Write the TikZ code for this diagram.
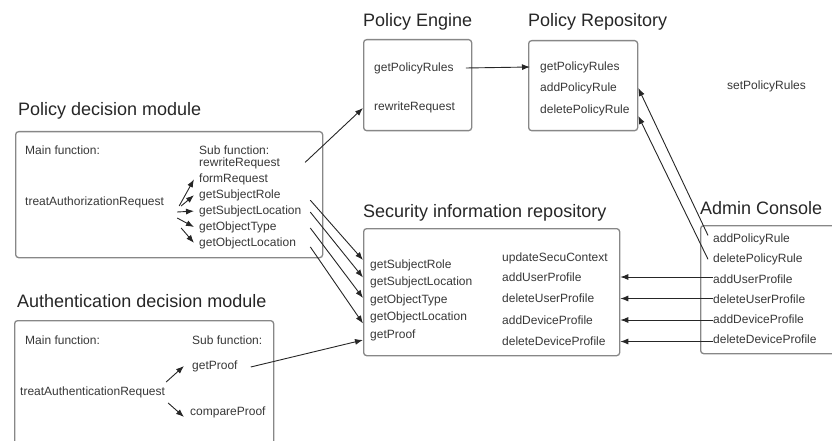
\documentclass[tikz,border=0pt]{standalone}
\usepackage{fontspec}
\setmainfont{Liberation Sans}
\usepackage{xcolor}
\usetikzlibrary{arrows.meta}

\definecolor{boxgray}{RGB}{135,135,135}
\definecolor{txtgray}{RGB}{55,55,55}

\tikzset{
  lbl/.style={anchor=west, inner sep=0pt, text=txtgray, font=\fontsize{12}{14}\selectfont},
  ttl/.style={anchor=west, inner sep=0pt, text=black!85, font=\fontsize{18}{21}\selectfont},
  modbox/.style={draw=boxgray, line width=1.3pt, rounded corners=3pt, anchor=north west, inner sep=0pt},
  conn/.style={draw=black!85, line width=0.9pt, -{Latex[length=8pt,width=6pt]}}
}

\begin{document}
\begin{tikzpicture}[x=1pt,y=-1pt]

\useasboundingbox (0,0) rectangle (832,441);

% Policy decision module
\node[ttl] (pdTitle) at (18,111) {Policy decision module};
\node[modbox, minimum width=307pt, minimum height=126pt] (pd) at (15,131) {};
\node[lbl] (pdMain) at (25,150) {Main function:};
\node[lbl] (pdSub) at (199,150) {Sub function:};
\node[lbl] (pdTreat) at (25,202) {treatAuthorizationRequest};
\foreach \nm/\txt [count=\i] in {Rewrite/rewriteRequest, Form/formRequest, Role/getSubjectRole, SLoc/getSubjectLocation, OType/getObjectType, OLoc/getObjectLocation}
  \node[lbl] (pd\nm) at (199,147.5+15.9*\i) {\txt};

% Policy Engine
\node[ttl] (peTitle) at (363,22) {Policy Engine};
\node[modbox, minimum width=108pt, minimum height=91pt] (pe) at (363,39) {};
\node[lbl] (peGet) at (374,68) {getPolicyRules};
\node[lbl] (peRewrite) at (374,107) {rewriteRequest};

% Policy Repository
\node[ttl] (prTitle) at (528,22) {Policy Repository};
\node[modbox, minimum width=109pt, minimum height=90pt] (pr) at (528,40) {};
\node[lbl] (prGet) at (540,67) {getPolicyRules};
\node[lbl] (prAdd) at (540,88) {addPolicyRule};
\node[lbl] (prDel) at (540,110) {deletePolicyRule};
\node[lbl] (prSet) at (727,86) {setPolicyRules};

% Security information repository
\node[ttl] (sirTitle) at (363,213) {Security information repository};
\node[modbox, minimum width=256pt, minimum height=127pt] (sir) at (363,228) {};
\foreach \nm/\txt [count=\i] in {Role/getSubjectRole, SLoc/getSubjectLocation, OType/getObjectType, OLoc/getObjectLocation, Proof/getProof}
  \node[lbl] (sir\nm) at (370,247.5+17.5*\i) {\txt};
\node[lbl] (sirCtx) at (502,258) {updateSecuContext};
\foreach \nm/\txt [count=\i] in {AddUser/addUserProfile, DelUser/deleteUserProfile, AddDev/addDeviceProfile, DelDev/deleteDeviceProfile}
  \node[lbl] (sir\nm) at (502,255.5+21.5*\i) {\txt};

% Admin Console
\node[ttl] (acTitle) at (700,208) {Admin Console};
\node[modbox, minimum width=150pt, minimum height=128pt] (ac) at (700,225) {};
\foreach \nm/\txt [count=\i] in {AddRule/addPolicyRule, DelRule/deletePolicyRule, AddUser/addUserProfile, DelUser/deleteUserProfile, AddDev/addDeviceProfile, DelDev/deleteDeviceProfile}
  \node[lbl] (ac\nm) at (713,219.5+19.9*\i) {\txt};

% Authentication decision module
\node[ttl] (adTitle) at (17,301) {Authentication decision module};
\node[modbox, minimum width=259pt, minimum height=140pt] (ad) at (14,320) {};
\node[lbl] (adMain) at (25,340) {Main function:};
\node[lbl] (adSub) at (192,340) {Sub function:};
\node[lbl] (adProof) at (192,366) {getProof};
\node[lbl] (adTreat) at (20,392) {treatAuthenticationRequest};
\node[lbl] (adCompare) at (190,412) {compareProof};

% Main function to sub functions
\foreach \tgt/\dx/\dy in {Form/15/4, Role/17/4, SLoc/13/10, OType/13/16, OLoc/17/26}
  \draw[conn] ([xshift=\dx pt, yshift=-\dy pt]pdTreat.east) -- ([xshift=-5pt]pd\tgt.west);
\draw[conn] ([xshift=1pt, yshift=10pt]adTreat.east) -- ([xshift=-8pt]adProof.west);
\draw[conn] ([xshift=3pt, yshift=-11pt]adTreat.east) -- ([xshift=-6pt, yshift=-5pt]adCompare.west);

% Calls between modules
\draw[conn] ([xshift=25pt, yshift=1pt]pdRewrite.east) -- ([yshift=-1pt]pe.west |- peRewrite);
\draw[conn] ([xshift=12pt]peGet.east) -- ([xshift=-10pt]prGet.west);
\foreach \nm/\sy/\ty in {Role/-5/5, SLoc/-1/5, OType/-1/2, OLoc/-4/-6}
  \draw[conn] ([xshift=-13pt, yshift=\sy pt]pd.east |- pd\nm) -- ([yshift=\ty pt]sir.west |- sir\nm);
\draw[conn] ([xshift=13pt, yshift=-1pt]adProof.east) -- ([yshift=-5pt]sir.west |- sirProof);

% Admin Console to repositories
\draw[conn] ([xshift=-5pt, yshift=4pt]acAddRule.west) -- (pr.east |- prAdd);
\draw[conn] ([xshift=-5pt]acDelRule.west) -- ([yshift=-6pt]pr.east |- prDel);
\foreach \nm in {AddUser, DelUser, AddDev, DelDev}
  \draw[conn] (ac\nm.west |- sir\nm) -- (sir.east |- sir\nm); % to profile ops

\end{tikzpicture}
\end{document}
